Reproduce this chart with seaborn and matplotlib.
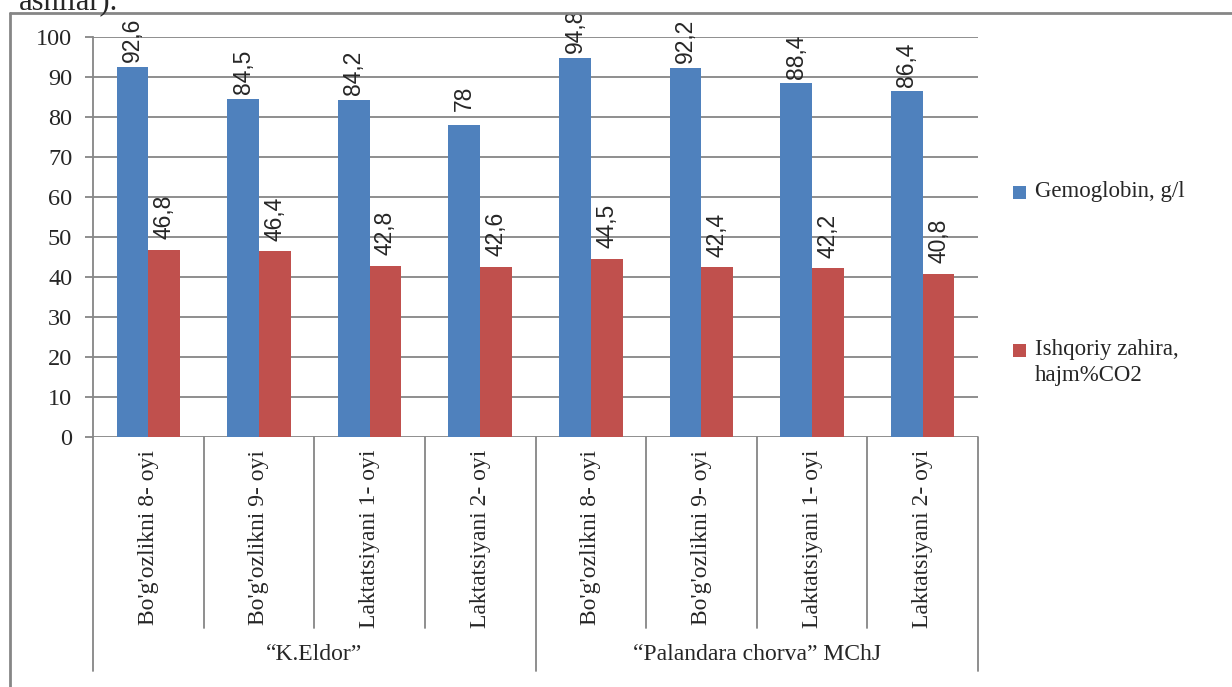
import matplotlib
matplotlib.use("Agg")
import matplotlib.pyplot as plt
import matplotlib.transforms as mtransforms
from matplotlib.lines import Line2D
from matplotlib.patches import Rectangle
import numpy as np
import pandas as pd
import seaborn as sns

# ---- data -------------------------------------------------------------
farms = ["“K.Eldor”", "“Palandara chorva” MChJ"]
periods = ["Bo'g'ozlikni 8- oyi", "Bo'g'ozlikni 9- oyi",
           "Laktatsiyani 1- oyi", "Laktatsiyani 2- oyi"]
gemoglobin = [92.6, 84.5, 84.2, 78, 94.8, 92.2, 88.4, 86.4]
ishqoriy = [46.8, 46.4, 42.8, 42.6, 44.5, 42.4, 42.2, 40.8]
series_names = ["Gemoglobin, g/l", "Ishqoriy zahira, hajm%CO2"]
legend_lines = [["Gemoglobin, g/l"], ["Ishqoriy zahira,", "hajm%CO2"]]
y_ticks = list(range(0, 101, 10))

# ---- style ------------------------------------------------------------
sns.set_style("white")
SERIF = ["Liberation Serif", "DejaVu Serif"]
SANS = ["Liberation Sans", "DejaVu Sans"]
plt.rcParams["font.family"] = SERIF

BLUE = "#4F81BD"
RED = "#C0504D"
GRID = "#868686"

W, H = 1232, 687
fig = plt.figure(figsize=(W / 100, H / 100), dpi=100)
ax = fig.add_axes([93 / W, 1 - 437 / H, (978 - 93) / W, 400 / H])

# long-form table: one slot per (farm, period)
slots = [f"{f}|{p}" for f in farms for p in periods]
rows = []
for s, g, q in zip(slots, gemoglobin, ishqoriy):
    rows.append({"slot": s, "series": series_names[0], "value": g})
    rows.append({"slot": s, "series": series_names[1], "value": q})
df = pd.DataFrame(rows)

sns.barplot(data=df, x="slot", y="value", hue="series", order=slots,
            hue_order=series_names, palette=[BLUE, RED], saturation=1,
            width=0.575, gap=0, dodge=True, linewidth=0, legend=False,
            errorbar=None, ax=ax)

ax.set_xlim(-0.5, len(slots) - 0.5)
ax.set_ylim(0, 100)
ax.set_yticks(y_ticks)
ax.set_yticklabels([str(t) for t in y_ticks], fontsize=17.5, family=SERIF)
ax.set_xticks([])
ax.set_xlabel("")
ax.set_ylabel("")
ax.tick_params(axis="y", length=6, width=1.3, color=GRID, pad=9,
               left=True)
ax.yaxis.grid(True, color=GRID, linewidth=1.3)
ax.set_axisbelow(True)
for side in ("top", "right", "bottom"):
    ax.spines[side].set_visible(False)
ax.spines["left"].set_color(GRID)
ax.spines["left"].set_linewidth(1.3)

# value labels above bars
def fmt(v):
    return f"{v:g}".replace(".", ",")

offsets = [19.5, 23.5]
for cont, vals, off in zip(ax.containers, [gemoglobin, ishqoriy], offsets):
    for bar, v in zip(cont, vals):
        cx = bar.get_x() + bar.get_width() / 2
        ax.annotate(fmt(v), xy=(cx, v), xytext=(0, off),
                    textcoords="offset points", rotation=90,
                    ha="center", va="center", fontsize=16.5, family=SANS)

# two-level category axis
trans = mtransforms.blended_transform_factory(ax.transData, ax.transAxes)
n_per = len(periods)
for i in range(len(slots) + 1):
    x = i - 0.5
    bottom = -0.585 if i % n_per == 0 else -0.4775
    ax.add_line(Line2D([x, x], [0, bottom], transform=trans, color=GRID,
                       linewidth=1.3, clip_on=False))
for i, s in enumerate(slots):
    ax.text(i, -0.032, periods[i % n_per], transform=trans, rotation=90,
            ha="center", va="top", fontsize=17, family=SERIF)
for k, f in enumerate(farms):
    cx = k * n_per + (n_per - 1) / 2
    ax.text(cx, -0.545, f, transform=trans, ha="center", va="center",
            fontsize=17, family=SERIF)

# legend
legend_y = [192, 350]
for color, lines, yc in zip([BLUE, RED], legend_lines, legend_y):
    fig.add_artist(Rectangle((1013 / W, 1 - (yc + 7) / H), 13 / W, 13 / H,
                             transform=fig.transFigure, facecolor=color,
                             edgecolor="none"))
    for j, line in enumerate(lines):
        fig.text(1035 / W, 1 - (yc + 26 * j) / H, line, ha="left",
                 va="center", fontsize=16.5, family=SERIF)

# chart frame (top and left edges)
fig.add_artist(Line2D([10 / W, 10 / W], [0, 1 - 13 / H],
                      transform=fig.transFigure, color=GRID, linewidth=2))
fig.add_artist(Line2D([10 / W, 1], [1 - 13 / H, 1 - 13 / H],
                      transform=fig.transFigure, color=GRID, linewidth=2))

# caption text running above the chart
fig.text(118 / W, 1 - 9 / H, "asnilar).", ha="right", va="baseline",
         fontsize=22, family=SERIF)

fig.savefig("out.png", dpi=100)
